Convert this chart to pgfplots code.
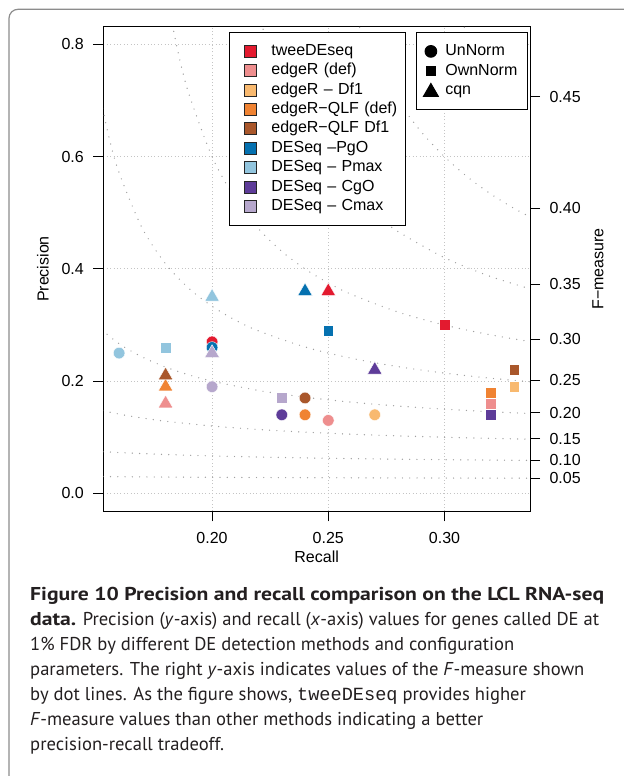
\documentclass[border=0pt]{standalone}
\usepackage{fontspec}
\setmainfont{Liberation Sans}
\newfontfamily\capfont{PT Sans}[BoldFeatures={FakeStretch=1.165}]
\newfontfamily\capmono{Liberation Mono}
\usepackage{pgfplots}
\pgfplotsset{compat=1.18}
\definecolor{c1}{HTML}{E31A2F}
\definecolor{c2}{HTML}{EE8E8E}
\definecolor{c3}{HTML}{F8B96F}
\definecolor{c4}{HTML}{F08332}
\definecolor{c5}{HTML}{A9572B}
\definecolor{c6}{HTML}{0571B0}
\definecolor{c7}{HTML}{92C5DE}
\definecolor{c8}{HTML}{5E3C99}
\definecolor{c9}{HTML}{B6A7CC}
\definecolor{framegray}{HTML}{8C8C8C}
\definecolor{gridgray}{HTML}{C4C4C4}
\definecolor{curvegray}{HTML}{A0A0A0}
\definecolor{captext}{HTML}{231F20}
\newcommand\axfont{\fontsize{16bp}{19bp}\selectfont}
\newcommand\colentry[2]{\addlegendimage{legend image code/.code={\path (0bp,0bp) (24bp,0bp); \draw[fill=#1, draw=black!85, line width=0.6bp] (12bp,-6bp) rectangle (24bp,6bp);}}\addlegendentry{#2}}
\pgfplotsset{
  circ/.style={only marks, mark=*, mark size=5.8bp, mark options={fill=#1, draw=white, line width=0.4bp}, forget plot},
  sq/.style={only marks, mark=square*, mark size=5.4bp, mark options={fill=#1, draw=white, line width=0.4bp}, forget plot},
  tri/.style={only marks, mark=triangle*, mark size=8.4bp, mark options={fill=#1, draw=white, line width=0.4bp}, forget plot},
  fcurve/.style={forget plot, smooth, color=curvegray, line width=1.4bp, dash pattern=on 0bp off 7.3bp, line cap=round},
}
\begin{document}
\begin{tikzpicture}
\useasboundingbox (0bp,0bp) rectangle (624bp,776bp);
\draw[color=framegray, line width=1.2bp, rounded corners=9bp] (9bp,-30bp) -- (9bp,766.7bp) -- (680bp,766.7bp);
\begin{axis}[
  at={(103.3bp,264.7bp)}, anchor=south west, scale only axis,
  width=426.7bp, height=484.6bp,
  xmin=0.1532, xmax=0.3368, ymin=-0.0320, ymax=0.8317,
  xtick={0.20,0.25,0.30}, xticklabels={0.20,0.25,0.30},
  ytick={0,0.2,0.4,0.6,0.8}, yticklabels={0.0,0.2,0.4,0.6,0.8},
  xtick pos=lower, ytick pos=left, tick align=outside, major tick length=10bp,
  tick style={black, line width=0.9bp},
  axis line style={black, line width=1bp},
  grid=major, major grid style={color=gridgray, line width=0.9bp, dash pattern=on 0.9bp off 2.5bp},
  ticklabel style={font=\axfont},
  yticklabel style={xshift=-6bp},
  xticklabel style={yshift=-8bp},
  label style={font=\axfont},
  xlabel={Recall}, ylabel={Precision},
  xlabel style={at={(axis description cs:0.5,-0.0943)}, anchor=center},
  ylabel style={at={(axis description cs:-0.1413,0.5)}, anchor=center},
  legend style={at={(rel axis cs:0.2953,0.9897)}, anchor=north west, draw=black, line width=0.9bp, fill=white,
    inner xsep=2bp, inner ysep=11.7bp, row sep=4.9bp, column sep=14.7bp, font=\axfont,
    nodes={inner sep=0bp, text height=11.5bp, text depth=3bp, text width=131.7bp, align=left}},
  legend cell align=left,
]
% F-measure iso-lines
\addplot[fcurve] coordinates {(0.15,0.03)(0.16,0.02963)(0.18,0.02903)(0.20,0.02857)(0.22,0.02821)(0.24,0.02791)(0.26,0.02766)(0.28,0.02745)(0.30,0.02727)(0.32,0.02712)(0.34,0.02698)};
\addplot[fcurve] coordinates {(0.15,0.075)(0.16,0.07273)(0.18,0.06923)(0.20,0.06667)(0.22,0.06471)(0.24,0.06316)(0.26,0.0619)(0.28,0.06087)(0.30,0.06)(0.32,0.05926)(0.34,0.05862)};
\addplot[fcurve] coordinates {(0.15,0.15)(0.16,0.14118)(0.17,0.13421)(0.18,0.12857)(0.20,0.12)(0.22,0.11379)(0.24,0.10909)(0.26,0.10541)(0.28,0.10244)(0.30,0.1)(0.32,0.09796)(0.34,0.09623)};
\addplot[fcurve] coordinates {(0.15,0.3)(0.16,0.26667)(0.17,0.24286)(0.18,0.225)(0.19,0.21111)(0.20,0.2)(0.22,0.18333)(0.24,0.17143)(0.26,0.1625)(0.28,0.15556)(0.30,0.15)(0.32,0.14545)(0.34,0.14167)};
\addplot[fcurve] coordinates {(0.15,0.75)(0.155,0.64583)(0.16,0.57143)(0.17,0.47222)(0.18,0.40909)(0.19,0.36538)(0.20,0.33333)(0.21,0.30882)(0.22,0.28947)(0.24,0.26087)(0.26,0.24074)(0.28,0.22581)(0.30,0.21429)(0.32,0.20513)(0.34,0.19767)};
\addplot[fcurve] coordinates {(0.18,0.9)(0.185,0.79286)(0.19,0.7125)(0.20,0.6)(0.21,0.525)(0.22,0.47143)(0.23,0.43125)(0.24,0.4)(0.25,0.375)(0.26,0.35455)(0.28,0.32308)(0.30,0.3)(0.32,0.28235)(0.34,0.26842)};
\addplot[fcurve] coordinates {(0.215,0.94063)(0.22,0.85556)(0.225,0.7875)(0.23,0.73182)(0.24,0.64615)(0.25,0.58333)(0.26,0.53529)(0.27,0.49737)(0.28,0.46667)(0.30,0.42)(0.32,0.38621)(0.34,0.36061)};
\addplot[fcurve] coordinates {(0.26,0.86667)(0.265,0.81538)(0.27,0.77143)(0.28,0.7)(0.29,0.64444)(0.30,0.6)(0.31,0.56364)(0.32,0.53333)(0.33,0.50769)(0.34,0.48571)};
\addplot[fcurve] coordinates {(0.30,0.9)(0.305,0.85781)(0.31,0.82059)(0.32,0.75789)(0.33,0.70714)(0.34,0.66522)};
% data: UnNorm (circles)
\addplot[circ=c1] coordinates {(0.20,0.27)};
\addplot[circ=c2] coordinates {(0.25,0.13)};
\addplot[circ=c3] coordinates {(0.27,0.14)};
\addplot[circ=c4] coordinates {(0.24,0.14)};
\addplot[circ=c5] coordinates {(0.24,0.17)};
\addplot[circ=c6] coordinates {(0.20,0.26)};
\addplot[circ=c7] coordinates {(0.16,0.25)};
\addplot[circ=c8] coordinates {(0.23,0.14)};
\addplot[circ=c9] coordinates {(0.20,0.19)};
% OwnNorm (squares)
\addplot[sq=c1] coordinates {(0.30,0.30)};
\addplot[sq=c4] coordinates {(0.32,0.18)};
\addplot[sq=c2] coordinates {(0.32,0.16)};
\addplot[sq=c3] coordinates {(0.33,0.19)};
\addplot[sq=c5] coordinates {(0.33,0.22)};
\addplot[sq=c6] coordinates {(0.25,0.29)};
\addplot[sq=c7] coordinates {(0.18,0.26)};
\addplot[sq=c8] coordinates {(0.32,0.14)};
\addplot[sq=c9] coordinates {(0.23,0.17)};
% cqn (triangles)
\addplot[tri=c1] coordinates {(0.25,0.36)};
\addplot[tri=c2] coordinates {(0.18,0.16)};
\addplot[tri=c4] coordinates {(0.18,0.19)};
\addplot[tri=c5] coordinates {(0.18,0.21)};
\addplot[tri=c6] coordinates {(0.24,0.36)};
\addplot[tri=c7] coordinates {(0.20,0.35)};
\addplot[tri=c8] coordinates {(0.27,0.22)};
\addplot[tri=c9] coordinates {(0.20,0.25)};
% colour legend
\colentry{c1}{tweeDEseq}
\colentry{c2}{edgeR (def)}
\colentry{c3}{edgeR – Df1}
\colentry{c4}{edgeR−QLF (def)}
\colentry{c5}{edgeR−QLF Df1}
\colentry{c6}{DESeq –PgO}
\colentry{c7}{DESeq – Pmax}
\colentry{c8}{DESeq – CgO}
\colentry{c9}{DESeq – Cmax}
\end{axis}
\begin{axis}[
  at={(103.3bp,264.7bp)}, anchor=south west, scale only axis,
  width=426.7bp, height=484.6bp,
  xmin=0.1532, xmax=0.3368, ymin=-0.0320, ymax=0.8317,
  axis x line=none, axis y line*=right,
  ytick={0.02705,0.05893,0.09706,0.14348,0.20122,0.275,0.37258,0.50769,0.70714},
  yticklabels={0.05,0.10,0.15,0.20,0.25,0.30,0.35,0.40,0.45},
  tick align=outside, major tick length=10bp,
  tick style={black, line width=0.9bp},
  axis line style={black, line width=1bp},
  ticklabel style={font=\axfont},
  yticklabel style={xshift=6bp},
  label style={font=\axfont},
  ylabel={F−measure},
  ylabel style={at={(axis description cs:1.1593,0.5)}, anchor=center},
  legend style={at={(rel axis cs:0.7328,0.9897)}, anchor=north west, draw=black, line width=0.9bp, fill=white,
    inner xsep=2bp, inner ysep=12bp, row sep=4.9bp, column sep=2bp, font=\axfont,
    nodes={inner sep=0bp, text height=11.5bp, text depth=3bp, text width=79.7bp, align=left}},
  legend cell align=left,
]
\addlegendimage{legend image code/.code={\path (0bp,0bp) (24bp,0bp); \fill[black] (12bp,0bp) circle[radius=5.9bp];}}
\addlegendentry{UnNorm}
\addlegendimage{legend image code/.code={\path (0bp,0bp) (24bp,0bp); \fill[black] (7.3bp,-4.7bp) rectangle (16.7bp,4.7bp);}}
\addlegendentry{OwnNorm}
\addlegendimage{legend image code/.code={\path (0bp,0bp) (24bp,0bp); \fill[black] (4.5bp,-6bp) -- (19.5bp,-6bp) -- (12bp,7bp) -- cycle;}}
\addlegendentry{cqn}
\end{axis}
\node[anchor=north west, inner sep=0pt, align=left, text=captext,
  font=\capfont\fontsize{18.6bp}{25bp}\selectfont] at (30bp,188.5bp)
 {\textbf{Figure 10 Precision and recall comparison on the LCL RNA-seq}\\
  \textbf{data.} Precision (\textit{y}-axis) and recall (\textit{x}-axis) values for genes called DE at\\
  1\% FDR by different DE detection methods and configuration\\
  parameters. The right \textit{y}-axis indicates values of the \textit{F}-measure shown\\
  by dot lines. As the figure shows, {\capmono tweeDEseq} provides higher\\
  \textit{F}-measure values than other methods indicating a better\\
  precision-recall tradeoff.};
\end{tikzpicture}
\end{document}
